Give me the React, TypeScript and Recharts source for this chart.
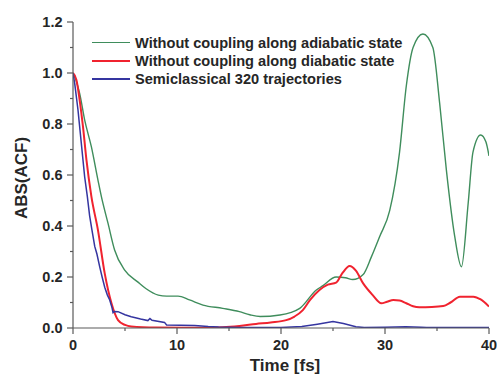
import React from 'react';
import { LineChart, Line, XAxis, YAxis } from 'recharts';

// Without coupling along adiabatic state
const adiabaticTime = [0, 0.3, 0.64, 1.12, 1.77, 2.4, 2.73, 3.37, 4.0, 4.97, 6.25, 7.0, 8.2, 9.0, 10.1, 11.2, 12.5, 14.4, 16.0, 17.0, 18.0, 19.9, 21.8, 23.4, 24.0, 25.3, 26.2, 26.9, 27.9, 28.7, 29.5, 30.45, 31.4, 32.05, 32.7, 33.65, 34.6, 35.26, 35.9, 36.7, 37.35, 38.0, 38.46, 39.2, 39.7, 40.0];
const adiabaticValue = [1.0, 0.97, 0.92, 0.816, 0.71, 0.58, 0.515, 0.41, 0.306, 0.227, 0.18, 0.155, 0.129, 0.125, 0.125, 0.11, 0.09, 0.077, 0.064, 0.052, 0.045, 0.051, 0.077, 0.149, 0.165, 0.2, 0.197, 0.19, 0.21, 0.28, 0.36, 0.46, 0.69, 0.95, 1.1, 1.153, 1.1, 0.88, 0.62, 0.36, 0.24, 0.49, 0.69, 0.757, 0.73, 0.675];

// Without coupling along diabatic state
const diabaticTime = [0, 0.33, 0.64, 0.96, 1.29, 1.77, 2.4, 3.05, 3.7, 4.33, 5.0, 5.6, 8.0, 12.0, 14.4, 16.0, 17.6, 19.0, 20.5, 21.3, 22.1, 22.8, 23.7, 24.5, 25.3, 25.9, 26.6, 27.2, 27.9, 28.8, 29.65, 30.2, 30.8, 31.4, 32.05, 32.7, 33.3, 34.5, 35.6, 36.3, 37.2, 38.5, 39.2, 40.0];
const diabaticValue = [1.0, 0.973, 0.894, 0.79, 0.66, 0.515, 0.384, 0.214, 0.097, 0.031, 0.012, 0.006, 0.002, 0.001, 0.003, 0.008, 0.016, 0.022, 0.031, 0.045, 0.07, 0.11, 0.149, 0.17, 0.178, 0.215, 0.243, 0.225, 0.175, 0.13, 0.097, 0.103, 0.11, 0.108, 0.097, 0.085, 0.081, 0.082, 0.086, 0.1, 0.123, 0.123, 0.112, 0.084];

// Semiclassical 320 trajectories
const semiTime = [0, 0.16, 0.48, 0.8, 1.12, 1.38, 1.6, 1.8, 2.09, 2.3, 2.57, 2.8, 3.05, 3.3, 3.53, 3.75, 3.85, 4.0, 4.33, 5.0, 5.6, 6.5, 7.2, 7.4, 7.6, 8.8, 9.0, 11.7, 13.0, 14.0, 16.0, 20.0, 22.0, 23.5, 25.0, 26.0, 27.2, 28.0, 30.0, 32.0, 33.5, 34.0, 40.0];
const semiValue = [1.0, 0.96, 0.855, 0.724, 0.593, 0.515, 0.44, 0.39, 0.32, 0.29, 0.24, 0.2, 0.16, 0.13, 0.11, 0.08, 0.06, 0.065, 0.064, 0.052, 0.044, 0.035, 0.029, 0.037, 0.03, 0.022, 0.012, 0.01, 0.006, 0.004, 0.002, 0.002, 0.006, 0.015, 0.025, 0.018, 0.005, 0.002, 0.003, 0.005, 0.003, 0.002, 0.002];

const xTicks = [0, 5, 10, 15, 20, 25, 30, 35, 40];
const yTicks = [0, 0.1, 0.2, 0.3, 0.4, 0.5, 0.6, 0.7, 0.8, 0.9, 1.0, 1.1, 1.2];

const seriesNames = [
  'Without coupling along adiabatic state',
  'Without coupling along diabatic state',
  'Semiclassical 320 trajectories',
];
const seriesColors = ['#3f8d5c', '#f0232f', '#3535a0'];
const seriesWidths = [1.4, 2, 1.5];

const toRows = (ts: number[], vs: number[]) => ts.map((t, i) => ({ t, v: vs[i] }));
const adiabaticData = toRows(adiabaticTime, adiabaticValue);
const diabaticData = toRows(diabaticTime, diabaticValue);
const semiData = toRows(semiTime, semiValue);

const AXIS = '#5a5a5a';
const TEXT = '#262626';
const FONT = '"Liberation Sans", Arial, sans-serif';

const XTick = (props: any) => {
  const { x, y, payload } = props;
  const v = payload.value as number;
  const major = Math.round(v) % 10 === 0;
  return (
    <g>
      <line x1={x} x2={x} y1={y} y2={y + (major ? 6 : 3)} stroke={AXIS} strokeWidth={1.2} />
      {major && (
        <text x={x} y={y + 22} textAnchor="middle" fontFamily={FONT} fontWeight="bold" fontSize={14.5} fill={TEXT}>
          {v}
        </text>
      )}
    </g>
  );
};

const YTick = (props: any) => {
  const { x, y, payload } = props;
  const v = payload.value as number;
  const major = Math.round(v * 10) % 2 === 0;
  return (
    <g>
      <line x1={x - (major ? 6 : 3)} x2={x} y1={y} y2={y} stroke={AXIS} strokeWidth={1.2} />
      {major && (
        <text x={x - 10.5} y={y + 5} textAnchor="end" fontFamily={FONT} fontWeight="bold" fontSize={14.5} fill={TEXT}>
          {v.toFixed(1)}
        </text>
      )}
    </g>
  );
};

const YTitle = (props: any) => {
  const vb = props.viewBox || { x: 0, y: 22, width: 73, height: 306 };
  const cx = vb.x + 27;
  const cy = vb.y + vb.height / 2 + 3;
  return (
    <text
      x={cx}
      y={cy}
      transform={`rotate(-90, ${cx}, ${cy})`}
      textAnchor="middle"
      fontFamily={FONT}
      fontWeight="bold"
      fontSize={17}
      fill={TEXT}
    >
      ABS(ACF)
    </text>
  );
};

const XTitle = (props: any) => {
  const vb = props.viewBox || { x: 73, y: 328, width: 416, height: 46 };
  return (
    <text x={vb.x + vb.width / 2 + 4} y={371} textAnchor="middle" fontFamily={FONT} fontWeight="bold" fontSize={17} fill={TEXT}>
      Time [fs]
    </text>
  );
};

export default function App() {
  return (
    <div style={{ position: 'absolute', left: 0, top: 0, width: 497, height: 374, background: '#fff' }}>
      <LineChart width={497} height={374} margin={{ top: 22, right: 8, bottom: 0, left: 0 }}>
        <XAxis
          dataKey="t"
          type="number"
          domain={[0, 40]}
          ticks={xTicks}
          interval={0}
          tickSize={0}
          tickMargin={0}
          tickLine={false}
          tick={<XTick />}
          height={46}
          stroke={AXIS}
          strokeWidth={1.2}
          allowDataOverflow
          label={<XTitle />}
        />
        <YAxis
          type="number"
          domain={[0, 1.2]}
          ticks={yTicks}
          interval={0}
          tickSize={0}
          tickMargin={0}
          tickLine={false}
          tick={<YTick />}
          width={73}
          stroke={AXIS}
          strokeWidth={1.2}
          allowDataOverflow
          label={<YTitle />}
        />
        <Line data={adiabaticData} dataKey="v" type="monotone" stroke={seriesColors[0]} strokeWidth={seriesWidths[0]} dot={false} isAnimationActive={false} name={seriesNames[0]} />
        <Line data={diabaticData} dataKey="v" type="monotone" stroke={seriesColors[1]} strokeWidth={seriesWidths[1]} dot={false} isAnimationActive={false} name={seriesNames[1]} />
        <Line data={semiData} dataKey="v" type="linear" stroke={seriesColors[2]} strokeWidth={seriesWidths[2]} dot={false} isAnimationActive={false} name={seriesNames[2]} />
      </LineChart>
      <div style={{ position: 'absolute', left: 92, top: 33.5, fontFamily: FONT, fontWeight: 'bold', fontSize: 14.6, color: TEXT }}>
        {seriesNames.map((n, i) => (
          <div key={n} style={{ display: 'flex', alignItems: 'center', height: 18.3, whiteSpace: 'nowrap' }}>
            <div style={{ width: 38, height: i === 1 ? 2.5 : 1.5, background: seriesColors[i], marginRight: 5 }} />
            <span>{n}</span>
          </div>
        ))}
      </div>
    </div>
  );
}
